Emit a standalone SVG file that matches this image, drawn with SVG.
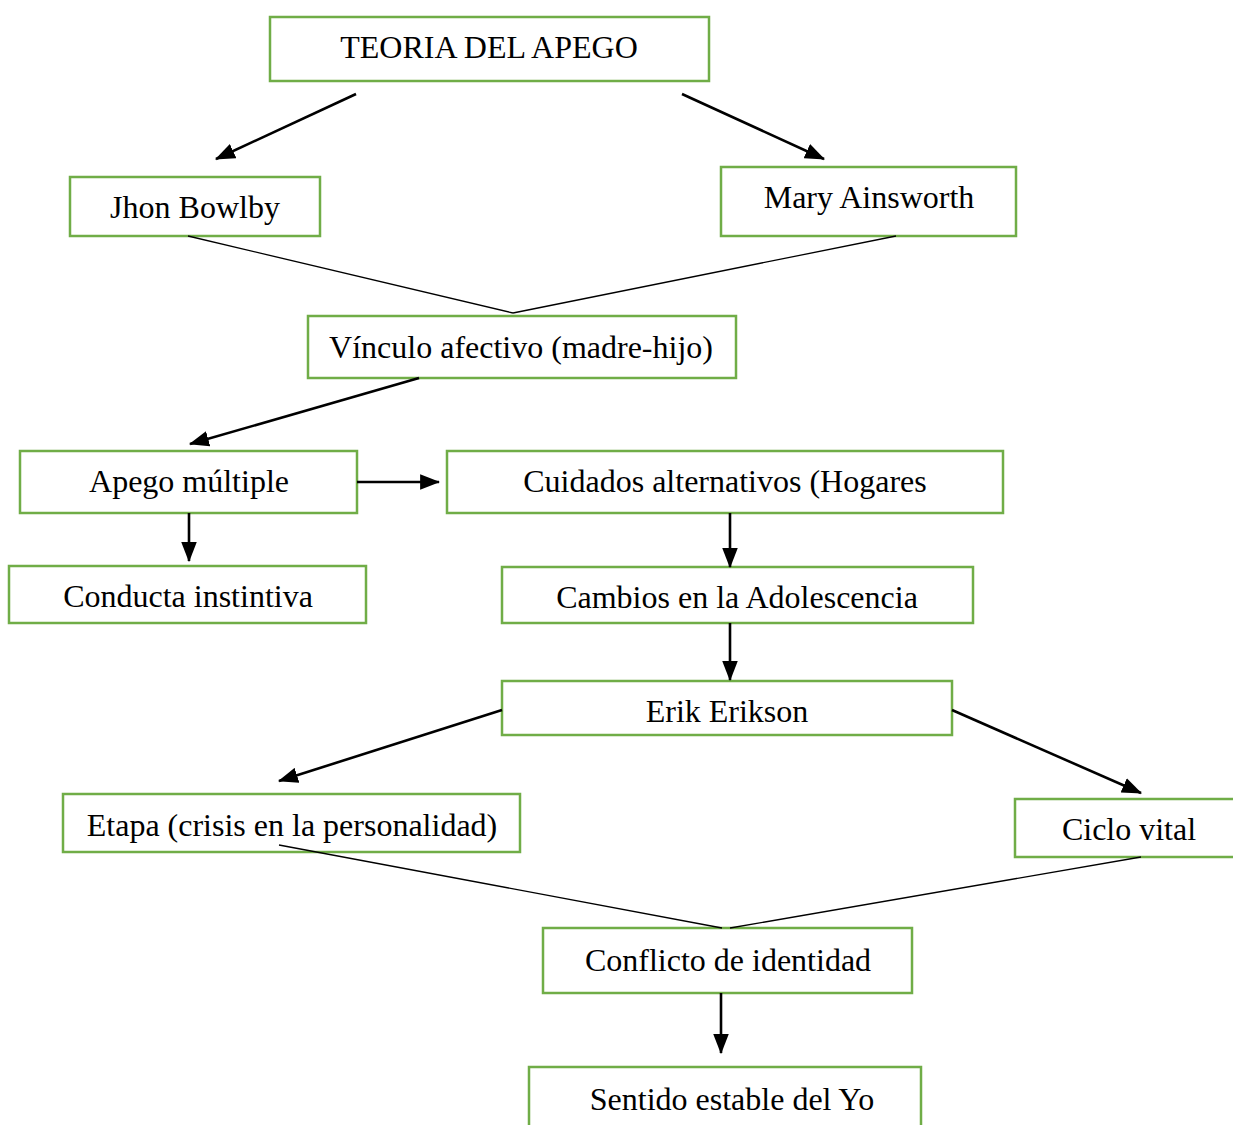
<svg xmlns="http://www.w3.org/2000/svg" width="1233" height="1125" viewBox="0 0 1233 1125">
<defs>
<style>
.box{fill:#fff;stroke:#70AD47;stroke-width:2.5}
.t{font-family:"Liberation Serif","Times New Roman",serif;font-size:32px;fill:#000;text-anchor:middle}
.arr{stroke:#000;stroke-width:2.6;fill:none;marker-end:url(#ah)}
.ln{stroke:#000;stroke-width:1.3;fill:none}
</style>
<marker id="ah" markerUnits="userSpaceOnUse" markerWidth="20" markerHeight="16" refX="17" refY="7" orient="auto" viewBox="0 0 18 14">
<path d="M0,0 L18,7 L0,14 Z" fill="#000"/>
</marker>
</defs>
<rect width="1233" height="1125" fill="#fff"/>
<g id="n1"><rect class="box" x="270" y="17" width="439" height="64"/><text class="t" x="489" y="58">TEORIA DEL APEGO</text></g>
<g id="n2"><rect class="box" x="70" y="177" width="250" height="59"/><text class="t" x="195" y="218">Jhon Bowlby</text></g>
<g id="n3"><rect class="box" x="721" y="167" width="295" height="69"/><text class="t" x="869" y="208">Mary Ainsworth</text></g>
<g id="n4"><rect class="box" x="308" y="316" width="428" height="62"/><text class="t" x="521" y="358">Vínculo afectivo (madre-hijo)</text></g>
<g id="n5"><rect class="box" x="20" y="451" width="337" height="62"/><text class="t" x="189" y="492">Apego múltiple</text></g>
<g id="n6"><rect class="box" x="447" y="451" width="556" height="62"/><text class="t" x="725" y="492">Cuidados alternativos (Hogares</text></g>
<g id="n7"><rect class="box" x="9" y="566" width="357" height="57"/><text class="t" x="188" y="607">Conducta instintiva</text></g>
<g id="n8"><rect class="box" x="502" y="567" width="471" height="56"/><text class="t" x="737" y="608">Cambios en la Adolescencia</text></g>
<g id="n9"><rect class="box" x="502" y="681" width="450" height="54"/><text class="t" x="727" y="722">Erik Erikson</text></g>
<g id="n10"><rect class="box" x="63" y="794" width="457" height="58"/><text class="t" x="292" y="836">Etapa (crisis en la personalidad)</text></g>
<g id="n11"><rect class="box" x="1015" y="799" width="230" height="58"/><text class="t" x="1129" y="840">Ciclo vital</text></g>
<g id="n12"><rect class="box" x="543" y="928" width="369" height="65"/><text class="t" x="728" y="971">Conflicto de identidad</text></g>
<g id="n13"><rect class="box" x="529" y="1067" width="392" height="70"/><text class="t" x="732" y="1110">Sentido estable del Yo</text></g>
<g id="connectors">
<line class="arr" x1="356" y1="94" x2="216" y2="159"/>
<line class="arr" x1="682" y1="94" x2="824" y2="159"/>
<line class="ln" x1="188" y1="236" x2="513" y2="313"/>
<line class="ln" x1="896" y1="236" x2="513" y2="313"/>
<line class="arr" x1="419" y1="378" x2="190" y2="444"/>
<line class="arr" x1="357" y1="482" x2="439" y2="482"/>
<line class="arr" x1="189" y1="513" x2="189" y2="561"/>
<line class="arr" x1="730" y1="513" x2="730" y2="567"/>
<line class="arr" x1="730" y1="623" x2="730" y2="680"/>
<line class="arr" x1="502" y1="710" x2="279" y2="781"/>
<line class="arr" x1="952" y1="710" x2="1141" y2="793"/>
<line class="ln" x1="279" y1="845" x2="722" y2="928"/>
<line class="ln" x1="1141" y1="857" x2="730" y2="928"/>
<line class="arr" x1="721" y1="993" x2="721" y2="1053"/>
</g>
</svg>
